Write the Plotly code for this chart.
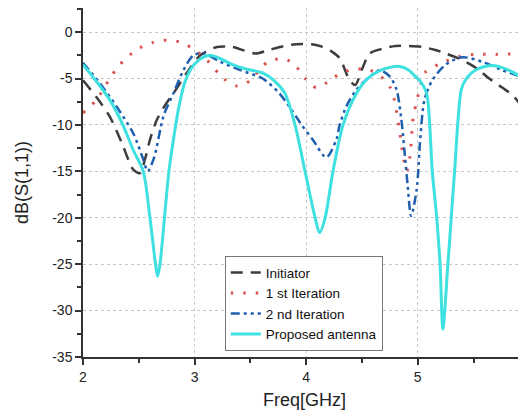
import plotly.graph_objects as go

# Initiator
init_x = [2.0, 2.12, 2.24, 2.35, 2.45, 2.51, 2.56, 2.6, 2.66, 2.74, 2.81, 2.93, 3.05, 3.2, 3.34, 3.45,
          3.55, 3.67, 3.8, 3.91, 4.05, 4.15, 4.23, 4.3, 4.39, 4.44, 4.5, 4.57, 4.68, 4.8, 4.92, 5.04,
          5.15, 5.25, 5.36, 5.46, 5.55, 5.64, 5.76, 5.85, 5.97]
init_y = [-5.2, -7.0, -9.1, -12.0, -14.8, -15.2, -13.5, -11.6, -9.5, -7.8, -6.6, -4.4, -2.5, -1.6, -1.6, -2.0,
          -2.3, -1.9, -1.5, -1.3, -1.3, -1.6, -2.1, -2.8, -5.2, -5.7, -4.0, -2.3, -1.8, -1.5, -1.5, -1.6,
          -1.9, -2.3, -2.8, -3.4, -4.1, -5.0, -6.0, -6.8, -8.6]

# 1st iteration
it1_x = [2.0, 2.12, 2.24, 2.33, 2.48, 2.63, 2.76, 2.88, 3.0, 3.11, 3.26, 3.38, 3.5, 3.6, 3.67, 3.81,
         3.91, 3.99, 4.09, 4.19, 4.31, 4.44, 4.57, 4.67, 4.75, 4.79, 4.84, 4.87, 4.9, 4.93, 4.96, 4.99,
         5.03, 5.07, 5.2, 5.38, 5.52, 5.7, 5.97]
it1_y = [-8.7, -7.3, -5.0, -3.5, -1.9, -1.1, -0.86, -1.1, -1.9, -3.0, -5.0, -5.8, -5.2, -3.8, -3.1, -2.9,
         -3.7, -5.0, -6.0, -5.4, -4.4, -4.0, -4.1, -4.8, -5.9, -7.3, -10.9, -13.4, -15.0, -13.4, -9.1, -7.5,
         -5.5, -4.3, -3.4, -2.6, -2.4, -2.4, -2.3]

# 2nd iteration
it2_x = [2.0, 2.15, 2.3, 2.45, 2.54, 2.58, 2.64, 2.72, 2.81, 2.9, 2.99, 3.08, 3.23, 3.41, 3.61, 3.76,
         3.91, 3.96, 4.06, 4.18, 4.27, 4.30, 4.36, 4.45, 4.57, 4.66, 4.75, 4.81, 4.85, 4.88, 4.91, 4.94,
         4.99, 5.02, 5.06, 5.13, 5.25, 5.4, 5.58, 5.76, 5.97]
it2_y = [-3.3, -5.5, -8.0, -10.9, -13.7, -15.0, -13.4, -9.1, -6.6, -4.1, -2.5, -2.3, -3.2, -4.1, -5.0, -6.6,
         -9.1, -10.0, -11.6, -13.5, -11.6, -10.0, -8.0, -6.2, -4.8, -4.1, -4.8, -6.2, -9.1, -12.7, -16.6, -19.8,
         -17.0, -11.9, -7.3, -5.2, -3.5, -2.7, -3.2, -4.1, -5.0]

# Proposed antenna
prop_x = [2.0, 2.12, 2.24, 2.35, 2.45, 2.54, 2.6, 2.65, 2.668, 2.69, 2.73, 2.77, 2.81, 2.86, 2.91, 2.97,
          3.02, 3.08, 3.14, 3.22, 3.34, 3.47, 3.61, 3.72, 3.81, 3.90, 3.99, 4.08, 4.12, 4.17, 4.24, 4.33,
          4.45, 4.55, 4.65, 4.75, 4.84, 4.92, 4.98, 5.03, 5.08, 5.13, 5.17, 5.20, 5.225, 5.27, 5.30, 5.33,
          5.39, 5.43, 5.49, 5.55, 5.62, 5.67, 5.75, 5.85, 5.97]
prop_y = [-3.5, -5.3, -7.3, -9.8, -12.7, -15.0, -20.0, -25.0, -26.3, -25.0, -20.0, -15.0, -11.6, -8.0, -5.5, -3.9,
          -3.2, -2.7, -2.5, -2.8, -3.5, -4.0, -4.4, -5.3, -6.6, -10.0, -15.0, -20.0, -21.6, -20.0, -15.0, -10.0,
          -6.6, -5.0, -4.2, -3.8, -3.7, -4.1, -4.8, -5.4, -6.6, -15.0, -20.0, -25.0, -32.0, -25.0, -20.0, -15.0,
          -6.2, -5.1, -4.3, -3.9, -3.65, -3.6, -3.8, -4.3, -5.2]

x_ticks = [2, 3, 4, 5]
y_ticks = [0, -5, -10, -15, -20, -25, -30, -35]

fig = go.Figure()
fig.add_trace(go.Scatter(x=init_x, y=init_y, name="Initiator", mode="lines",
                         line=dict(color="#3d3d3d", width=2.5, dash="12px,8px", shape="spline", smoothing=0.8)))
fig.add_trace(go.Scatter(x=it1_x, y=it1_y, name="1 st Iteration", mode="lines",
                         line=dict(color="#d9534f", width=3, dash="2.5px,10px", shape="spline", smoothing=0.8)))
fig.add_trace(go.Scatter(x=it2_x, y=it2_y, name="2 nd Iteration", mode="lines",
                         line=dict(color="#1f5fae", width=2.5, dash="9px,4px,3px,4px,3px,4px", shape="spline", smoothing=0.8)))
fig.add_trace(go.Scatter(x=prop_x, y=prop_y, name="Proposed antenna", mode="lines",
                         line=dict(color="#3ee0e0", width=3, shape="spline", smoothing=0.8)))

axis_font = dict(family="Arial, Liberation Sans, sans-serif", size=14, color="#222")
fig.update_layout(
    width=518, height=409,
    margin=dict(l=75, r=0, t=0, b=60),
    paper_bgcolor="white", plot_bgcolor="white",
    font=dict(family="Arial, Liberation Sans, sans-serif", size=13, color="#222"),
    showlegend=True,
    legend=dict(x=0.32, y=0.289, xanchor="left", yanchor="top",
                bgcolor="white", bordercolor="#777", borderwidth=1,
                font=dict(size=13.5, color="#111"), tracegroupgap=0,
                itemwidth=30),
    xaxis=dict(range=[2, 5.97], tickvals=x_ticks, ticktext=[str(v) for v in x_ticks],
               automargin=False,
               showline=True, linecolor="#333", linewidth=1.5, mirror=True,
               ticks="outside", ticklen=6, tickcolor="#333", tickwidth=1.5,
               minor=dict(dtick=0.5, tick0=2, ticks="outside", ticklen=4, tickcolor="#333", showgrid=False),
               showgrid=True, gridcolor="#c8c8c8", griddash="dot", gridwidth=1,
               zeroline=False, tickfont=axis_font,
               title=dict(text="Freq[GHz]", font=dict(size=18, color="#222"), standoff=10)),
    yaxis=dict(range=[-35, 2.6], tickvals=y_ticks, ticktext=[str(v) for v in y_ticks],
               automargin=False,
               showline=True, linecolor="#333", linewidth=1.5, mirror=False,
               ticks="outside", ticklen=6, tickcolor="#333", tickwidth=1.5,
               minor=dict(dtick=2.5, tick0=0, ticks="outside", ticklen=4, tickcolor="#333", showgrid=False),
               showgrid=True, gridcolor="#c8c8c8", griddash="dot", gridwidth=1,
               zeroline=False, tickfont=axis_font,
               title=dict(text="dB(S(1,1))", font=dict(size=18, color="#222"), standoff=19)),
)

fig.write_html("out.html")
